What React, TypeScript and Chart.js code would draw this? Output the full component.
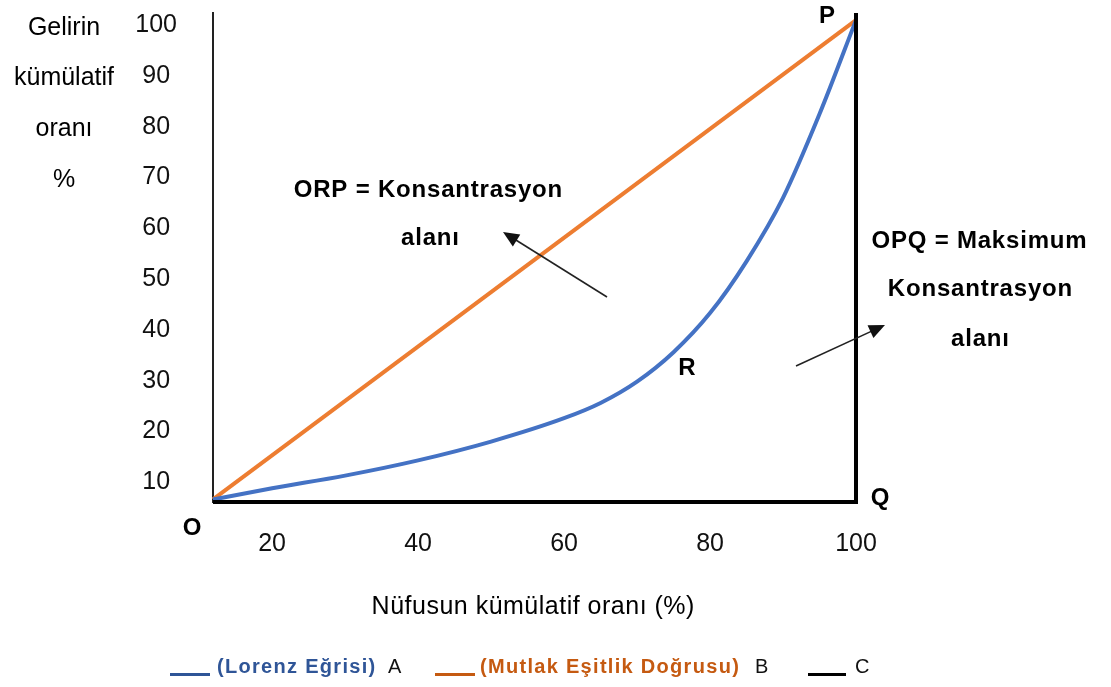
import { useEffect, useRef } from 'react';
import { Chart, registerables } from 'chart.js';

Chart.register(...registerables);

// ---- data ----
const lorenzX = [11.9, 20, 30, 40, 50, 60, 65, 70, 75, 80, 85, 90, 95, 100];
const lorenzY = [6.6, 8.8, 11.3, 14.3, 18.0, 22.6, 25.6, 29.8, 35.6, 43.3, 53.5, 66.0, 82.5, 101];
const equalityX = [11.9, 100];
const equalityY = [6.6, 101];
const maxLineX = [11.9, 100, 100];
const maxLineY = [6.1, 6.1, 102.4];
const xTicks = [20, 40, 60, 80, 100];
const yTicks = [10, 20, 30, 40, 50, 60, 70, 80, 90, 100];
const yTitleWords = ['Gelirin', 'kümülatif', 'oranı', '%'];
const yTitleRows = [100, 90, 80, 70];
const xTitle = 'Nüfusun kümülatif oranı (%)';
const legendItems = [
  { label: '(Lorenz Eğrisi)', suffix: 'A', color: '#2F5597' },
  { label: '(Mutlak Eşitlik Doğrusu)', suffix: 'B', color: '#C55A11' },
  { label: '', suffix: 'C', color: '#000000' },
];

const FAMILY = '"Liberation Sans", Arial, sans-serif';

const toPoints = (xs: number[], ys: number[]) => xs.map((x, i) => ({ x, y: ys[i] }));

function drawArrow(ctx: CanvasRenderingContext2D, x1: number, y1: number, x2: number, y2: number) {
  const ang = Math.atan2(y2 - y1, x2 - x1);
  const hl = 16, hw = 7;
  ctx.save();
  ctx.strokeStyle = '#222';
  ctx.fillStyle = '#111';
  ctx.lineWidth = 1.6;
  ctx.beginPath();
  ctx.moveTo(x1, y1);
  ctx.lineTo(x2 - Math.cos(ang) * hl * 0.8, y2 - Math.sin(ang) * hl * 0.8);
  ctx.stroke();
  ctx.beginPath();
  ctx.moveTo(x2, y2);
  ctx.lineTo(x2 - Math.cos(ang) * hl + Math.sin(ang) * hw, y2 - Math.sin(ang) * hl - Math.cos(ang) * hw);
  ctx.lineTo(x2 - Math.cos(ang) * hl - Math.sin(ang) * hw, y2 - Math.sin(ang) * hl + Math.cos(ang) * hw);
  ctx.closePath();
  ctx.fill();
  ctx.restore();
}

function text(
  ctx: CanvasRenderingContext2D,
  s: string,
  x: number,
  y: number,
  font: string,
  color: string,
  align: CanvasTextAlign = 'center',
  spacing = 0
) {
  ctx.save();
  ctx.font = font;
  ctx.fillStyle = color;
  ctx.textBaseline = 'alphabetic';
  (ctx as any).letterSpacing = spacing + 'px';
  const w = ctx.measureText(s).width;
  let left = x;
  if (align === 'center') left = x - (w - spacing) / 2;
  else if (align === 'right') left = x - w;
  ctx.textAlign = 'left';
  ctx.fillText(s, left, y);
  ctx.restore();
}

const annotationPlugin = {
  id: 'annotations',
  afterDraw(chart: any) {
    const ctx: CanvasRenderingContext2D = chart.ctx;
    const ys = chart.scales.y;
    const bold24 = `bold 24px ${FAMILY}`;
    const reg25 = `25px ${FAMILY}`;

    // y title words next to tick rows
    yTitleWords.forEach((w, i) => {
      text(ctx, w, 64, ys.getPixelForValue(yTitleRows[i]) + 9.5, reg25, '#000');
    });

    // point labels
    text(ctx, 'P', 827, 23, bold24, '#000');
    text(ctx, 'Q', 880, 505, bold24, '#000');
    text(ctx, 'O', 192, 535, bold24, '#000');
    text(ctx, 'R', 687, 375, bold24, '#000');

    // area labels
    text(ctx, 'ORP = Konsantrasyon', 428, 197, bold24, '#000', 'center', 0.8);
    text(ctx, 'alanı', 430, 245, bold24, '#000', 'center', 0.8);
    text(ctx, 'OPQ = Maksimum', 979, 248, bold24, '#000', 'center', 0.8);
    text(ctx, 'Konsantrasyon', 980, 296, bold24, '#000', 'center', 0.8);
    text(ctx, 'alanı', 980, 346, bold24, '#000', 'center', 0.8);

    drawArrow(ctx, 607, 297, 503, 232);
    drawArrow(ctx, 796, 366, 885, 325);

    // x title
    text(ctx, xTitle, 533, 614, `25px ${FAMILY}`, '#000', 'center', 0.5);

    // legend
    const legendLines = [
      [170, 210],
      [435, 475],
      [808, 846],
    ];
    const labelX = [217, 480, 0];
    const suffixX = [388, 755, 855];
    legendItems.forEach((it, i) => {
      ctx.save();
      ctx.fillStyle = it.color;
      ctx.fillRect(legendLines[i][0], 673, legendLines[i][1] - legendLines[i][0], 3);
      ctx.restore();
      if (it.label) text(ctx, it.label, labelX[i], 673, `bold 20px ${FAMILY}`, it.color, 'left', 1.3);
      text(ctx, it.suffix, suffixX[i], 673, `20px ${FAMILY}`, '#111', 'left');
    });
  },
};

export default function App() {
  const ref = useRef<HTMLCanvasElement | null>(null);

  useEffect(() => {
    document.body.style.margin = '0';
    if (!ref.current) return;
    const chart = new Chart(ref.current, {
      type: 'scatter',
      data: {
        datasets: [
          {
            label: 'A',
            data: toPoints(lorenzX, lorenzY),
            showLine: true,
            borderColor: '#4472C4',
            backgroundColor: '#4472C4',
            borderWidth: 4,
            pointRadius: 0,
            cubicInterpolationMode: 'monotone',
            clip: false as any,
            order: 2,
          },
          {
            label: 'B',
            data: toPoints(equalityX, equalityY),
            showLine: true,
            borderColor: '#ED7D31',
            backgroundColor: '#ED7D31',
            borderWidth: 4,
            pointRadius: 0,
            clip: false as any,
            order: 3,
          },
          {
            label: 'C',
            data: toPoints(maxLineX, maxLineY),
            showLine: true,
            borderColor: '#000000',
            backgroundColor: '#000000',
            borderWidth: 4,
            pointRadius: 0,
            clip: false as any,
            order: 1,
          },
        ],
      },
      options: {
        animation: false,
        responsive: false,
        devicePixelRatio: 1,
        layout: { padding: { left: 0, right: 255, top: 13, bottom: 0 } },
        plugins: { legend: { display: false }, tooltip: { enabled: false } },
        scales: {
          x: {
            type: 'linear',
            min: 11.9,
            max: 100,
            grid: { display: false, drawTicks: false },
            border: { display: false },
            afterBuildTicks: (s: any) => {
              s.ticks = xTicks.map((v) => ({ value: v }));
            },
            afterFit: (s: any) => {
              s.height = 185;
              s.paddingLeft = 0;
              s.paddingRight = 0;
            },
            ticks: {
              padding: 27,
              color: '#111',
              font: { family: FAMILY, size: 25 },
              maxRotation: 0,
              autoSkip: false,
            },
          },
          y: {
            type: 'linear',
            min: 6.1,
            max: 102.4,
            grid: { display: false, drawTicks: false },
            border: { display: true, color: '#222', width: 2 },
            afterBuildTicks: (s: any) => {
              s.ticks = yTicks.map((v) => ({ value: v }));
            },
            afterFit: (s: any) => {
              s.width = 213;
              s.paddingTop = 0;
              s.paddingBottom = 0;
            },
            ticks: {
              padding: 36,
              crossAlign: 'center',
              color: '#111',
              font: { family: FAMILY, size: 25 },
              autoSkip: false,
            },
          },
        },
      },
      plugins: [annotationPlugin],
    });
    return () => chart.destroy();
  }, []);

  return (
    <div style={{ width: 1111, height: 687, background: '#fff' }}>
      <canvas ref={ref} width={1111} height={687} />
    </div>
  );
}
